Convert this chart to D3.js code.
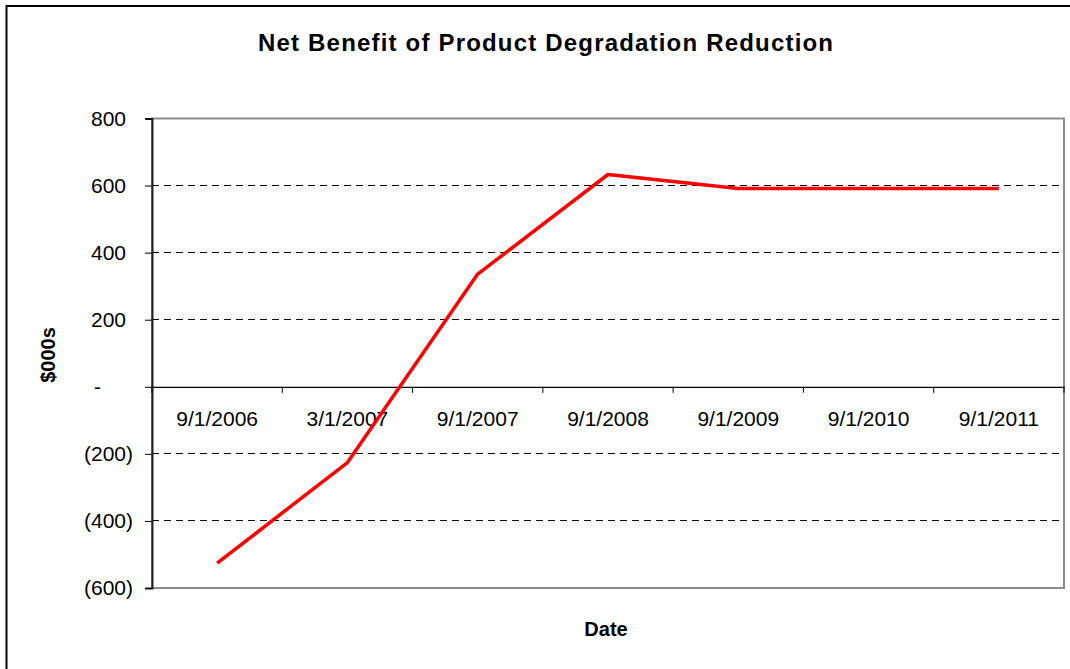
<!DOCTYPE html>
<html>
<head>
<meta charset="utf-8">
<script src="https://cdn.jsdelivr.net/npm/d3@7"></script>
<style>
  html, body { margin: 0; padding: 0; background: #fff; overflow: hidden; }
  svg { display: block; font-family: "Liberation Sans", Arial, sans-serif; }
</style>
</head>
<body>
<svg id="chart" width="1070" height="669"></svg>
<script>
// ---- Data ----
const categories = ["9/1/2006", "3/1/2007", "9/1/2007", "9/1/2008", "9/1/2009", "9/1/2010", "9/1/2011"];
const netBenefit = [-526, -226, 336, 633, 591, 591, 591];
const yTicks = [-600, -400, -200, 0, 200, 400, 600, 800];
const titleText = "Net Benefit of Product Degradation Reduction";
const xTitle = "Date";
const yTitle = "$000s";

// ---- Layout ----
const svg = d3.select("#chart");
const plot = { left: 152, right: 1064, top: 118.5, bottom: 588 };

const x = d3.scaleBand().domain(categories).range([plot.left, plot.right]).paddingInner(0).paddingOuter(0);
const y = d3.scaleLinear().domain([-600, 800]).range([plot.bottom, plot.top]);

// outer chart border (only left and top edges are inside the frame)
svg.append("path")
  .attr("d", "M6.5,669 L6.5,6 L1070,6")
  .attr("fill", "none").attr("stroke", "#000").attr("stroke-width", 2);

// title
svg.append("text")
  .attr("x", 545.5).attr("y", 51)
  .attr("text-anchor", "middle")
  .attr("font-size", 24).attr("font-weight", "bold")
  .attr("textLength", 575).attr("lengthAdjust", "spacing")
  .text(titleText);

// gridlines (dashed)
svg.append("g").selectAll("line")
  .data(yTicks.filter(d => d !== 0 && d !== 800 && d !== -600))
  .join("line")
  .attr("x1", plot.left).attr("x2", plot.right)
  .attr("y1", d => y(d)).attr("y2", d => y(d))
  .attr("stroke", "#000").attr("stroke-width", 1)
  .attr("stroke-dasharray", "7,5")
  .attr("shape-rendering", "crispEdges");

// plot area border (gray)
svg.append("rect")
  .attr("x", plot.left).attr("y", plot.top)
  .attr("width", plot.right - plot.left).attr("height", plot.bottom - plot.top)
  .attr("fill", "none").attr("stroke", "#8c8c8c").attr("stroke-width", 2);

// y axis
const fmt = d => d === 0 ? "-" : (d < 0 ? "(" + Math.abs(d) + ")" : String(d));
const yAxis = d3.axisLeft(y).tickValues(yTicks).tickSize(7).tickPadding(0).tickFormat(fmt);
const gy = svg.append("g").attr("transform", `translate(${plot.left},0)`).call(yAxis);
gy.select(".domain").attr("stroke", "#222").attr("stroke-width", 2);
gy.selectAll(".tick line").attr("stroke", "#000");
gy.selectAll(".tick text")
  .attr("font-size", 21).attr("fill", "#000")
  .attr("font-family", "'Liberation Sans', Arial, sans-serif")
  .attr("x", d => d === 0 ? -51 : (d > 0 ? -26 : -19));

// x axis at zero
const xAxis = d3.axisBottom(x).tickSize(0).tickPadding(0);
const gx = svg.append("g").attr("transform", `translate(0,${y(0)})`).call(xAxis);
gx.select(".domain").attr("stroke", "#000").attr("stroke-width", 1.2);
gx.selectAll(".tick text")
  .attr("font-size", 21).attr("fill", "#000")
  .attr("font-family", "'Liberation Sans', Arial, sans-serif")
  .attr("dy", null).attr("y", 39);
// band-boundary tick marks
const boundaries = categories.map(c => x(c)).concat([x(categories[categories.length - 1]) + x.bandwidth()]);
gx.append("g").selectAll("line").data(boundaries).join("line")
  .attr("x1", d => d).attr("x2", d => d).attr("y1", 0).attr("y2", 6)
  .attr("stroke", "#000").attr("stroke-width", 1);

// line
const line = d3.line()
  .x((d, i) => x(categories[i]) + x.bandwidth() / 2)
  .y(d => y(d));
svg.append("path")
  .datum(netBenefit)
  .attr("d", line)
  .attr("fill", "none").attr("stroke", "#ff0000").attr("stroke-width", 3.5)
  .attr("stroke-linejoin", "round");

// axis titles
svg.append("text")
  .attr("x", 606).attr("y", 636)
  .attr("text-anchor", "middle")
  .attr("font-size", 20).attr("font-weight", "bold")
  .text(xTitle);

svg.append("text")
  .attr("transform", "translate(55,355) rotate(-90)")
  .attr("text-anchor", "middle")
  .attr("font-size", 20).attr("font-weight", "bold")
  .text(yTitle);
</script>
</body>
</html>
